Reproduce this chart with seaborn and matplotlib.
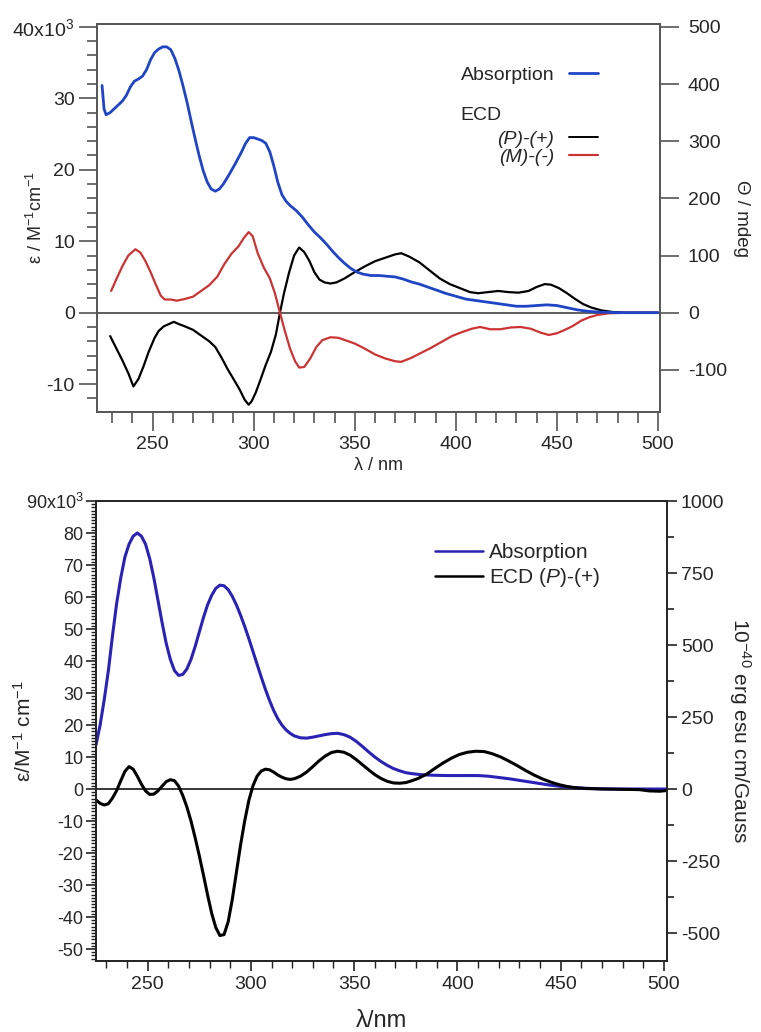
import numpy as np
import pandas as pd
import matplotlib
matplotlib.use("Agg")
import matplotlib.pyplot as plt
import seaborn as sns
from matplotlib.ticker import MultipleLocator, FixedLocator
from matplotlib.lines import Line2D

# ---------------- DATA: top panel (measured) ----------------
top_abs_nm = [225, 226, 227, 229, 232, 235, 237, 239, 241, 243, 245, 247, 249, 251, 253, 255,
              257, 259, 261, 263, 265, 267, 269, 271, 273, 275, 277, 279, 281, 283, 285, 288,
              291, 294, 296, 298, 300, 302, 304, 306, 308, 310, 312, 314, 316, 318, 321, 324,
              327, 330, 333, 336, 339, 342, 345, 348, 351, 354, 358, 362, 366, 370, 374, 378,
              382, 386, 390, 395, 400, 405, 410, 415, 420, 425, 430, 435, 440, 445, 450, 455,
              460, 465, 470, 480, 490, 500]
top_abs_eps = [31.8, 28.5, 27.7, 28.0, 28.8, 29.6, 30.4, 31.6, 32.4, 32.7, 33.1, 34.0, 35.4, 36.4, 36.9, 37.2,
               37.2, 36.8, 35.6, 33.9, 31.8, 29.5, 26.9, 24.4, 22.0, 19.9, 18.3, 17.3, 17.0, 17.3, 18.0, 19.4,
               20.9, 22.5, 23.7, 24.5, 24.5, 24.3, 24.1, 23.7, 22.5, 20.5, 18.2, 16.5, 15.6, 15.0, 14.3, 13.4,
               12.3, 11.3, 10.5, 9.6, 8.6, 7.7, 6.9, 6.2, 5.7, 5.4, 5.2, 5.2, 5.1, 5.0, 4.7, 4.3,
               4.0, 3.6, 3.2, 2.7, 2.3, 1.9, 1.7, 1.5, 1.3, 1.1, 0.9, 0.9, 1.0, 1.1, 1.0, 0.7,
               0.4, 0.2, 0.1, 0.0, 0.0, 0.0]

# ECD in mdeg (right axis)
top_P_nm = [229, 232, 235, 238, 240.5, 243, 245.5, 248, 251, 253, 255.5, 258, 260.5, 263, 266, 270,
            274, 278, 281, 284, 287, 290, 293, 295.5, 297.5, 299, 301, 303.5, 306, 308.5, 311, 313,
            315, 317.5, 320, 322.5, 325, 327.5, 330, 332.5, 335, 338, 341, 345, 350, 355, 360, 365,
            370, 373, 377, 382, 387, 392, 397, 402, 407, 411, 416, 421, 426, 431, 436, 440,
            444, 447, 451, 455, 459, 463, 467, 472, 478, 485, 500]
top_P_mdeg = [-41, -62, -83, -106, -129, -116, -94, -69, -44, -32, -24, -20, -16, -20, -24, -30,
              -40, -50, -60, -78, -98, -116, -134, -152, -161, -155, -140, -116, -91, -69, -38, 0,
              34, 70, 100, 114, 106, 91, 71, 58, 53, 51, 53, 60, 71, 81, 90, 96,
              102, 104, 98, 88, 74, 60, 50, 43, 36, 34, 36, 38, 36, 35, 38, 45,
              50, 49, 43, 34, 24, 15, 9, 4, 1, 0, 0]

top_M_nm = [229.5, 232, 235, 238, 241.5, 244, 246.5, 249, 251.5, 254, 256, 259, 262, 266, 270, 274,
            278, 282, 285.5, 289, 292.5, 295, 297.5, 299.5, 302, 305, 308, 310.5, 313, 315.5, 318, 320.5,
            322.5, 325, 328, 331, 334, 338, 342, 346, 350, 355, 360, 365, 370, 373, 378, 383,
            388, 393, 398, 403, 408, 412, 417, 422, 427, 432, 437, 442, 446, 450, 454, 458,
            462, 466, 470, 476, 485, 500]
top_M_mdeg = [38, 58, 81, 100, 111, 105, 90, 71, 50, 30, 23, 23, 21, 24, 28, 38,
              48, 63, 85, 103, 116, 130, 141, 134, 104, 79, 60, 34, 0, -33, -63, -85,
              -96, -95, -80, -60, -48, -43, -44, -49, -54, -63, -73, -80, -85, -86, -79, -70,
              -61, -51, -41, -34, -28, -25, -29, -29, -26, -25, -28, -35, -39, -36, -30, -23,
              -14, -8, -4, -1, 0, 0]

# ---------------- DATA: bottom panel (calculated) ----------------
bot_abs_nm = [225, 227, 229, 231, 233, 235, 237, 239, 241, 243, 245, 247, 249, 251, 253, 255,
              257, 259, 261, 263, 265, 267, 269, 271, 273, 275, 277, 279, 281, 283, 285, 287,
              289, 291, 293, 295, 297, 299, 301, 303, 305, 307, 309, 311, 313, 315, 317, 319,
              321, 324, 327, 330, 333, 336, 339, 342, 345, 348, 351, 354, 357, 360, 363, 366,
              369, 372, 375, 378, 382, 388, 395, 402, 410, 415, 420, 425, 430, 435, 440, 445,
              450, 455, 460, 465, 470, 480, 501]
bot_abs_eps = [13.8, 20, 28, 37, 48, 58, 66, 72.5, 76.5, 79, 80, 79, 76.5, 72, 66, 59,
               52, 45.5, 40.5, 37, 35.5, 35.8, 37.5, 40.5, 44.5, 49, 53.5, 57.5, 60.5, 62.7, 63.7, 63.5,
               62.3, 60.2, 57.5, 54.3, 50.8, 47, 43, 39, 35, 31.2, 27.7, 24.6, 22, 20, 18.5, 17.4,
               16.6, 16.0, 15.9, 16.2, 16.6, 17.0, 17.3, 17.4, 17.0, 16.2, 14.9, 13.3, 11.6, 10.0, 8.6, 7.4,
               6.4, 5.7, 5.1, 4.8, 4.5, 4.3, 4.2, 4.2, 4.2, 4.0, 3.6, 3.2, 2.7, 2.2, 1.7, 1.2,
               0.8, 0.5, 0.3, 0.15, 0.05, 0.0, 0.0]

bot_ecd_nm = [225, 227, 229, 231, 233, 235, 237, 239, 241, 243, 245, 247, 249, 251, 253, 255,
              257, 259, 261, 263, 265, 267, 269, 271, 273, 275, 277, 279, 281, 283, 285, 287,
              289, 291, 293, 295, 297, 299, 301, 303, 305, 307, 309, 311, 313, 315, 317, 319,
              321, 324, 327, 330, 333, 336, 339, 342, 345, 348, 351, 354, 357, 360, 363, 366,
              369, 372, 375, 378, 381, 385, 389, 393, 397, 401, 405, 409, 413, 417, 421, 425,
              429, 433, 437, 441, 445, 449, 453, 457, 462, 470, 480, 488, 493, 498, 501]
bot_ecd_eps = [-3.4, -4.5, -5.0, -4.6, -2.8, -0.5, 2.6, 5.5, 7.0, 6.2, 4.0, 1.5, -0.6, -1.7, -1.6, -0.6,
               0.9, 2.3, 2.9, 2.6, 0.9, -2.0, -5.6, -10, -15.2, -20.8, -26.8, -33, -38.8, -43.3, -45.8, -45.5,
               -41.5, -34.5, -26, -17.5, -10, -3.6, 1, 4, 5.6, 6.2, 6.0, 5.3, 4.4, 3.7, 3.2, 3.0,
               3.2, 4.0, 5.3, 7.0, 8.8, 10.3, 11.4, 11.8, 11.5, 10.6, 9.2, 7.6, 6.0, 4.5, 3.3, 2.4,
               1.9, 1.8, 2.0, 2.6, 3.3, 4.6, 6.4, 8.1, 9.6, 10.8, 11.5, 11.8, 11.7, 11.0, 10.0, 8.7,
               7.3, 5.8, 4.4, 3.2, 2.2, 1.4, 0.8, 0.4, 0.15, 0.0, -0.1, -0.2, -0.6, -0.7, -0.5]

top_left_ticks = [-10, 0, 10, 20, 30, 40]
top_left_labels = ["-10", "0", "10", "20", "30", "40x10$^3$"]
top_right_ticks = [-100, 0, 100, 200, 300, 400, 500]
bot_left_ticks = [-50, -40, -30, -20, -10, 0, 10, 20, 30, 40, 50, 60, 70, 80, 90]
bot_left_labels = ["-50", "-40", "-30", "-20", "-10", "0", "10", "20", "30", "40",
                   "50", "60", "70", "80", "90x10$^3$"]
bot_right_ticks = [-500, -250, 0, 250, 500, 750, 1000]
x_ticks = [250, 300, 350, 400, 450, 500]

# ---------------- STYLE ----------------
sns.set_theme(style="ticks")
plt.rcParams['font.family'] = ['Liberation Sans', 'DejaVu Sans']
plt.rcParams['mathtext.fontset'] = 'custom'
plt.rcParams['mathtext.rm'] = 'Liberation Sans'
plt.rcParams['mathtext.it'] = 'Liberation Sans:italic'
plt.rcParams['axes.unicode_minus'] = False

BLUE_T = "#1f45c4"
RED_T = "#cc3333"
BLUE_B = "#2a22b4"
GREY = "#555555"

fig = plt.figure(figsize=(7.61, 10.32), dpi=100)

# ================= TOP PANEL =================
ax1 = fig.add_axes([97/761, 1-412/1032, (660-97)/761, (412-24)/1032])
ax1r = ax1.twinx()
L1 = (-13.9, 40.4)
ax1.set_ylim(*L1)
ax1r.set_ylim(L1[0]*12.5, L1[1]*12.5)
ax1.set_xlim(222.5, 501)

df_ta = pd.DataFrame({"nm": top_abs_nm, "v": top_abs_eps})
df_tp = pd.DataFrame({"nm": top_P_nm, "v": top_P_mdeg})
df_tm = pd.DataFrame({"nm": top_M_nm, "v": top_M_mdeg})
ax1r.axhline(0, color="#333333", lw=1.1, zorder=1)
sns.lineplot(data=df_tp, x="nm", y="v", ax=ax1r, color="black", lw=1.6, sort=False, estimator=None)
sns.lineplot(data=df_tm, x="nm", y="v", ax=ax1r, color=RED_T, lw=1.6, sort=False, estimator=None)
ax1.set_zorder(ax1r.get_zorder() + 1)
ax1.patch.set_visible(False)
sns.lineplot(data=df_ta, x="nm", y="v", ax=ax1, color=BLUE_T, lw=2.0, sort=False, estimator=None)

ax1.set_yticks(top_left_ticks)
ax1.set_yticklabels(top_left_labels)
ax1.yaxis.set_minor_locator(MultipleLocator(2))
ax1r.set_yticks(top_right_ticks)
ax1.set_xticks(x_ticks)
ax1.xaxis.set_minor_locator(FixedLocator(list(range(230, 501, 10))))
for a in (ax1, ax1r):
    for s in a.spines.values():
        s.set_color(GREY)
        s.set_linewidth(1.2)
ax1.tick_params(axis="both", which="major", direction="out", length=13, width=1.2,
                color=GREY, labelsize=14, pad=3)
ax1.tick_params(axis="both", which="minor", direction="out", length=7, width=1.2, color=GREY)
ax1.tick_params(axis="x", which="major", length=14)
ax1.tick_params(axis="x", which="minor", length=8)
ax1r.tick_params(axis="y", which="major", direction="out", length=14, width=1.2,
                 color=GREY, labelsize=14, pad=6)
ax1.set_xlabel("λ / nm", fontsize=13, labelpad=3)
ax1.set_ylabel("ε / M$^{-1}$cm$^{-1}$", fontsize=13)
ax1.yaxis.set_label_coords(-0.09, 0.5)
ax1r.set_ylabel("Θ / mdeg", fontsize=13.5, rotation=270, va="bottom")
ax1r.yaxis.set_label_coords(1.13, 0.5)

# legends (top)
h_abs = [Line2D([], [], color=BLUE_T, lw=2.0)]
leg_a = ax1.legend(h_abs, ["Absorption"], loc="upper right", bbox_to_anchor=(0.89, 0.89),
                   markerfirst=False, frameon=False, fontsize=14, handlelength=1.5,
                   handletextpad=0.75, borderpad=0, borderaxespad=0)
ax1.add_artist(leg_a)
h_ecd = [Line2D([], [], color="black", lw=1.4), Line2D([], [], color=RED_T, lw=1.6)]
leg_e = ax1.legend(h_ecd, ["(P)-(+)", "(M)-(-)"], loc="upper right", bbox_to_anchor=(0.89, 0.727),
                   markerfirst=False, frameon=False, fontsize=14, handlelength=1.5,
                   handletextpad=0.75, labelspacing=0.05, borderpad=0, borderaxespad=0)
for t in leg_e.get_texts():
    t.set_style("italic")
ax1.text(0.645, 0.765, "ECD", transform=ax1.transAxes, fontsize=14, ha="left", va="center")

# ================= BOTTOM PANEL =================
ax2 = fig.add_axes([96/761, 1-961/1032, (667-96)/761, (961-501)/1032])
ax2r = ax2.twinx()
L2 = (-53.75, 90)
ax2.set_ylim(*L2)
ax2r.set_ylim(L2[0]*1000/90, L2[1]*1000/90)
ax2.set_xlim(225, 501.5)

df_ba = pd.DataFrame({"nm": bot_abs_nm, "v": bot_abs_eps})
df_be = pd.DataFrame({"nm": bot_ecd_nm, "v": bot_ecd_eps})
ax2.axhline(0, color="black", lw=1.1, zorder=1)
sns.lineplot(data=df_ba, x="nm", y="v", ax=ax2, color=BLUE_B, lw=2.2, sort=False, estimator=None)
sns.lineplot(data=df_be, x="nm", y="v", ax=ax2, color="black", lw=2.2, sort=False, estimator=None)

ax2.set_yticks(bot_left_ticks)
ax2.set_yticklabels(bot_left_labels)
ax2.yaxis.set_minor_locator(MultipleLocator(1))
ax2r.set_yticks(bot_right_ticks)
ax2r.yaxis.set_minor_locator(MultipleLocator(125))
ax2.set_xticks(x_ticks)
ax2.xaxis.set_minor_locator(FixedLocator(list(range(230, 501, 10))))
for a in (ax2, ax2r):
    for s in a.spines.values():
        s.set_color("#222222")
        s.set_linewidth(1.2)
ax2.tick_params(axis="y", which="major", direction="out", length=7, width=1.2,
                color="#222222", labelsize=13, pad=2)
ax2.tick_params(axis="x", which="major", direction="out", length=7, width=1.2,
                color="#222222", labelsize=14, pad=4)
ax2.tick_params(axis="both", which="minor", direction="out", length=3.5, width=1.0, color="#222222")
ax2.tick_params(axis="x", which="minor", length=5)
ax2r.tick_params(axis="y", which="major", direction="out", length=7, width=1.2,
                 color="#222222", labelsize=14, pad=3)
ax2r.tick_params(axis="y", which="minor", direction="out", length=5, width=1.2, color="#222222")
ax2.set_xlabel("λ/nm", fontsize=17, labelpad=12)
ax2.set_ylabel("ε/M$^{-1}$ cm$^{-1}$", fontsize=15)
ax2.yaxis.set_label_coords(-0.107, 0.5)
ax2r.set_ylabel("10$^{-40}$ erg esu cm/Gauss", fontsize=15, rotation=270, va="bottom")
ax2r.yaxis.set_label_coords(1.105, 0.5)

h_b = [Line2D([], [], color=BLUE_B, lw=1.8), Line2D([], [], color="black", lw=1.8)]
ax2.legend(h_b, ["Absorption", "ECD $\\mathit{(P)}$-$\\mathit{(+)}$"], loc="upper left",
           bbox_to_anchor=(0.594, 0.908), frameon=False, fontsize=15, handlelength=2.3,
           handletextpad=0.3, labelspacing=0.2, borderpad=0, borderaxespad=0)

fig.savefig("out.png", dpi=100)
